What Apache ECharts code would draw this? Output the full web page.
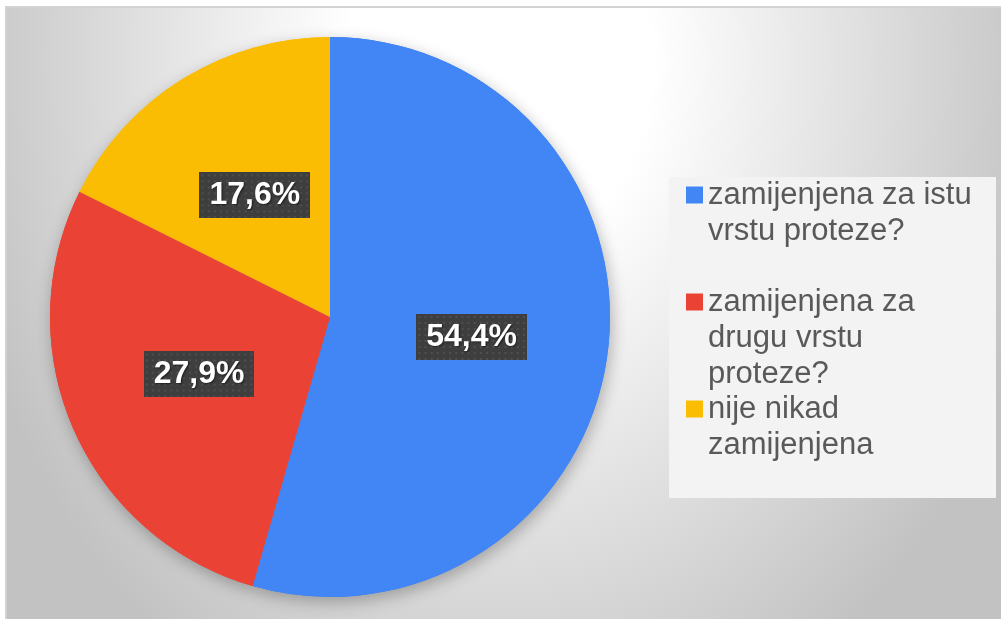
<!DOCTYPE html>
<html>
<head>
<meta charset="utf-8">
<script src="https://cdn.jsdelivr.net/npm/echarts/dist/echarts.min.js"></script>
<style>
  html, body { margin: 0; padding: 0; background: #fff; }
  #wrap { position: relative; width: 1001px; height: 619px; overflow: hidden; }
  #bg {
    position: absolute; left: 6px; top: 7px; width: 1000px; height: 620px;
    background: radial-gradient(ellipse 560px 728px at 494px 53px, #ffffff 0%, #ffffff 27%, #c2c2c2 100%);
  }
  #main { position: absolute; left: 0; top: 0; width: 1001px; height: 619px; }
</style>
</head>
<body>
<div id="wrap">
  <div id="bg"></div>
  <div id="main"></div>
</div>
<script>
  // podaci
  const categories = ['zamijenjena za istu vrstu proteze?', 'zamijenjena za drugu vrstu proteze?', 'nije nikad zamijenjena'];
  const shares = [54.4, 27.9, 17.6];
  const colors = ['#4285f4', '#ea4335', '#fbbc04'];

  const legendFont = '31px "Liberation Sans"';

  // tamna pozadina s tockicama za oznake
  function dotPattern () {
    const c = document.createElement('canvas');
    c.width = 108; c.height = 46;
    const ctx = c.getContext('2d');
    ctx.fillStyle = '#3e3e3e';
    ctx.fillRect(0, 0, c.width, c.height);
    ctx.fillStyle = '#4f4f4f';
    for (let x = 2; x < c.width; x += 6) {
      for (let y = 2; y < c.height; y += 6) {
        ctx.fillRect(x, y, 2, 2);
      }
    }
    return c;
  }

  // prelamanje teksta po rijecima
  function wrap (text, maxW) {
    const ctx = document.createElement('canvas').getContext('2d');
    ctx.font = legendFont;
    const words = text.split(' ');
    const lines = [];
    let cur = '';
    words.forEach(w => {
      const t = cur ? cur + ' ' + w : w;
      if (cur && ctx.measureText(t).width > maxW) {
        lines.push(cur);
        cur = w;
      } else {
        cur = t;
      }
    });
    lines.push(cur);
    return lines;
  }

  // ikona poravnata s prvim redom: prazni redovi iznad
  function legendLabel (name) {
    const lines = wrap(name, 275);
    const pad = [];
    for (let i = 1; i < lines.length; i++) pad.push(' ');
    return pad.concat(lines).join('\n');
  }

  const pieData = categories.map((name, i) => ({ name: name, value: shares[i] }));

  function oneLegend (i, top) {
    return {
      orient: 'vertical',
      left: 686,
      top: top,
      padding: 0,
      itemWidth: 17,
      itemHeight: 17,
      icon: 'rect',
      itemStyle: { shadowBlur: 0, shadowColor: 'transparent' },
      formatter: legendLabel,
      textStyle: {
        fontFamily: 'Liberation Sans',
        fontSize: 31,
        lineHeight: 36,
        color: '#595959'
      },
      data: [categories[i]]
    };
  }

  let myChart = echarts.init(document.getElementById('main'));
  myChart.setOption({
    animation: false,
    color: colors,
    graphic: [
      {
        type: 'rect',
        z: -19,
        silent: true,
        shape: { x: 6, y: 7, width: 1000, height: 620 },
        style: { fill: 'none', stroke: '#d2d2d2', lineWidth: 2 }
      },
      {
        type: 'rect',
        z: -18,
        silent: true,
        shape: { x: 669, y: 177, width: 327, height: 321 },
        style: { fill: '#f3f3f3' }
      }
    ],
    legend: [
      oneLegend(0, 141),
      oneLegend(1, 212),
      oneLegend(2, 355)
    ],
    series: [
      {
        // sjena ispod kruga
        type: 'pie',
        silent: true,
        center: [330, 317],
        radius: 280,
        z: 1,
        label: { show: false },
        labelLine: { show: false },
        itemStyle: {
          shadowBlur: 16,
          shadowColor: 'rgba(0,0,0,0.28)',
          shadowOffsetX: 2,
          shadowOffsetY: 5
        },
        data: pieData
      },
      {
        type: 'pie',
        center: [330, 317],
        radius: 280,
        z: 2,
        emphasis: { scale: false },
        label: {
          show: true,
          position: 'inner',
          formatter: p => p.value.toFixed(1).replace('.', ',') + '%',
          fontFamily: 'Liberation Sans',
          fontWeight: 'bold',
          fontSize: 32,
          lineHeight: 32,
          color: '#fff',
          textShadowColor: 'rgba(0,0,0,0.55)',
          textShadowBlur: 2,
          textShadowOffsetX: 1,
          textShadowOffsetY: 1,
          backgroundColor: { image: dotPattern() },
          padding: [7, 10],
          shadowColor: 'rgba(0,0,0,0.45)',
          shadowBlur: 7,
          shadowOffsetX: 4,
          shadowOffsetY: 5
        },
        labelLine: { show: false },
        data: pieData
      }
    ]
  });
</script>
</body>
</html>
